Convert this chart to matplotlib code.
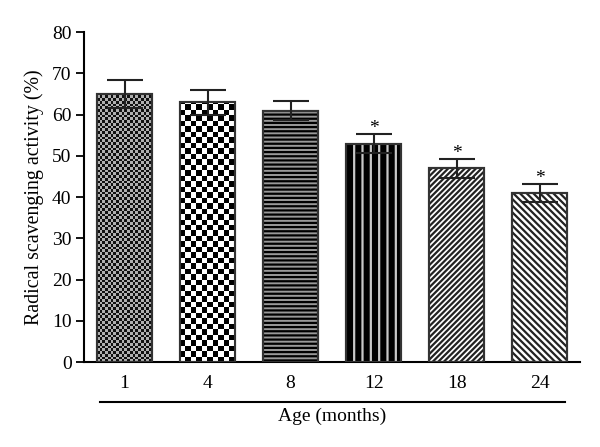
import matplotlib.pyplot as plt
import numpy as np

# Data
ages = ['1', '4', '8', '12', '18', '24']
activity = [65, 63, 61, 53, 47, 41]
errors = [3.4, 3.0, 2.3, 2.3, 2.3, 2.2]
significant = [False, False, False, True, True, True]

plt.rcParams['font.family'] = ['Liberation Serif', 'DejaVu Serif']
plt.rcParams['hatch.linewidth'] = 1.6

fig = plt.figure(figsize=(6, 4.47), dpi=100)
ax = fig.add_axes([0.14, 0.19, 0.827, 0.738])

x = np.arange(len(ages))
bars = ax.bar(x, activity, width=0.66, color='white', edgecolor='#333333', linewidth=1.5, zorder=2)


def checker(bar, n_cols, light, dark):
    # checkerboard fill clipped to the bar, cells square on screen
    bx, bw, bh = bar.get_x(), bar.get_width(), bar.get_height()
    cell = bw / n_cols
    cell_h = cell * (496 / 5.976) / (330 / 80)
    n_rows = int(np.ceil(bh / cell_h))
    grid = (np.add.outer(np.arange(n_rows), np.arange(n_cols)) % 2).astype(float)
    img = ax.imshow(grid, cmap=plt.matplotlib.colors.ListedColormap([light, dark]),
                    extent=(bx, bx + bw, 0, n_rows * cell_h), origin='lower',
                    interpolation='nearest', aspect='auto', zorder=2.5)
    img.set_clip_path(bar)


checker(bars[0], 20, '#b0b0b0', '#111111')
checker(bars[1], 10, 'white', 'black')

# bar 8: horizontal stripes
bars[2].set_facecolor('#999999')
bars[2].set_hatch('----')
bars[2].set_edgecolor('black')

# bar 12: black with light vertical lines
bars[3].set_facecolor('black')
ax.bar(x[3], activity[3], width=0.66, color='none', edgecolor='#c8c8c8', hatch='||',
       linewidth=0, zorder=2.6)

# bar 18 and 24: diagonal hatching
bars[4].set_hatch('//////')
bars[4].set_edgecolor('#222222')
bars[5].set_hatch('\\\\\\\\\\')
bars[5].set_edgecolor('#222222')

# outlines on top of fills
ax.bar(x, activity, width=0.66, color='none', edgecolor='#333333', linewidth=1.5, zorder=3)

ax.errorbar(x, activity, yerr=errors, fmt='none', ecolor='#222222', elinewidth=1.5,
            capsize=13, capthick=1.5, zorder=4)

for xi, v, e, s in zip(x, activity, errors, significant):
    if s:
        ax.text(xi, v + e + 1.3, '*', ha='center', va='center', fontsize=14)

ax.set_xlim(-0.488, 5.488)
ax.set_ylim(0, 80)
ax.set_yticks(range(0, 81, 10))
ax.set_xticks(x)
ax.set_xticklabels(ages)
ax.tick_params(axis='x', length=0, pad=9, labelsize=14)
ax.tick_params(axis='y', length=6, width=1.3, direction='out', labelsize=14, pad=3)
ax.spines['top'].set_visible(False)
ax.spines['right'].set_visible(False)
ax.spines['left'].set_linewidth(1.5)
ax.spines['bottom'].set_linewidth(1.5)
ax.set_ylabel('Radical scavenging activity (%)', fontsize=14.3, labelpad=6)

ax.plot([0.032, 0.97], [-0.121, -0.121], transform=ax.transAxes, color='black',
        linewidth=1.5, clip_on=False)
ax.text(0.5, -0.165, 'Age (months)', transform=ax.transAxes, ha='center', va='center',
        fontsize=14)

plt.savefig('out.png', dpi=100)
